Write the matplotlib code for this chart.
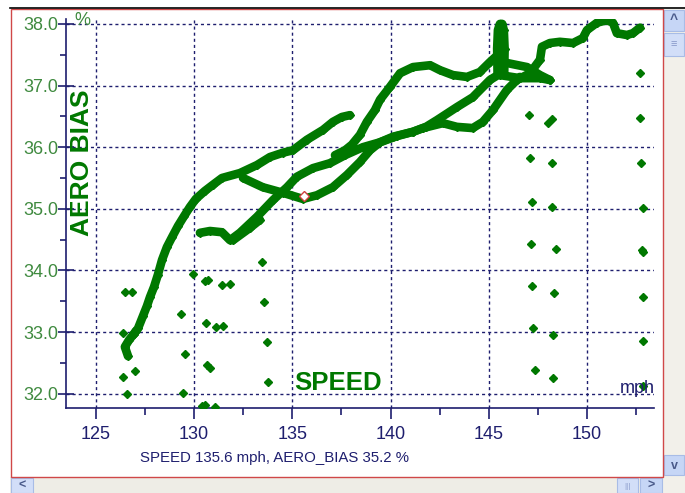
import matplotlib
matplotlib.use("Agg")
import matplotlib.pyplot as plt
from matplotlib.patches import Rectangle

# ---------------- data ----------------
track_a_speed = [126.64, 126.48, 126.69, 126.94, 127.15, 127.40, 127.60, 127.76, 127.96, 128.16,
                 128.37, 128.62, 128.88, 129.18, 129.49, 129.79, 130.09, 130.55, 130.96, 131.42,
                 132.33, 133.20, 133.86, 134.52, 135.03, 135.74, 136.56, 137.06, 137.52, 137.93]
track_a_bias = [32.61, 32.76, 32.87, 32.97, 33.06, 33.26, 33.42, 33.57, 33.73, 33.93,
                34.17, 34.38, 34.54, 34.72, 34.88, 35.03, 35.16, 35.29, 35.39, 35.50,
                35.58, 35.71, 35.84, 35.91, 35.95, 36.12, 36.28, 36.41, 36.49, 36.52]

spur_a_speed = [126.94, 127.05]
spur_a_bias = [32.97, 33.02]

track_b_speed = [132.49, 133.50, 134.52, 135.54, 136.25, 137.06, 137.78, 138.44, 138.95, 139.46,
                 140.12, 141.14, 141.80, 142.36, 143.37, 144.18, 145.05, 145.71]
track_b_bias = [35.50, 35.35, 35.26, 35.16, 35.22, 35.35, 35.55, 35.76, 35.95, 36.08,
                36.17, 36.25, 36.33, 36.44, 36.65, 36.81, 37.09, 37.22]

track_c_speed = [130.30, 130.81, 131.42, 131.83, 132.33, 133.20, 134.01, 134.73, 135.23, 136.05,
                 136.91, 137.68, 138.59, 139.46, 140.33, 141.14, 141.65, 142.66, 143.37, 144.18,
                 144.69, 145.20, 145.92, 146.58]
track_c_bias = [34.61, 34.64, 34.62, 34.49, 34.61, 34.87, 35.14, 35.35, 35.52, 35.66,
                35.74, 35.87, 36.00, 36.08, 36.18, 36.25, 36.31, 36.39, 36.33, 36.31,
                36.41, 36.60, 36.93, 37.14]

spur_c_speed = [131.98, 132.84, 133.35]
spur_c_bias = [34.49, 34.69, 34.82]

track_d_speed = [137.17, 137.68, 138.03, 138.44, 138.79, 139.20, 139.46, 139.97, 140.48, 141.14,
                 142.01, 142.51, 143.17, 143.88, 144.54, 145.05, 145.46]
track_d_bias = [35.87, 35.95, 36.04, 36.20, 36.41, 36.60, 36.77, 36.98, 37.20, 37.30,
                37.33, 37.25, 37.17, 37.14, 37.22, 37.38, 37.50]

blob_1_speed = [145.44, 145.42, 145.46, 145.56]
blob_1_bias = [37.20, 37.60, 37.90, 38.00]
blob_2_speed = [145.78, 145.80, 145.76, 145.68]
blob_2_bias = [37.20, 37.60, 37.90, 38.00]
blob_3_speed = [145.61, 145.62, 145.62]
blob_3_bias = [37.20, 37.60, 38.00]

branch_up_speed = [145.71, 146.94, 147.60, 148.10]
branch_up_bias = [37.38, 37.30, 37.17, 37.09]
branch_lo_speed = [145.56, 146.58, 147.60, 148.10]
branch_lo_bias = [37.17, 37.12, 37.12, 37.09]

track_e_speed = [146.43, 147.09, 147.60, 147.70, 148.10, 148.61, 149.28, 149.78, 149.99, 150.50,
                 151.00, 151.31, 151.51, 152.02, 152.33, 152.69]
track_e_bias = [37.09, 37.20, 37.42, 37.63, 37.69, 37.71, 37.69, 37.77, 37.90, 38.02,
                38.06, 38.02, 37.85, 37.82, 37.85, 37.94]

dots_speed = [126.48, 126.84, 126.38, 126.38, 126.99, 126.58, 129.33, 129.54, 129.44, 129.94,
              130.55, 130.71, 130.60, 131.11, 131.47, 130.66, 130.81, 130.40, 130.55, 131.06,
              131.42, 131.83, 133.45, 133.56, 133.71, 133.76,
              147.04, 148.00, 148.21, 152.69, 152.69, 147.09, 148.21, 152.74, 147.19, 148.21,
              152.84, 147.14, 148.41, 152.84, 152.79, 147.19, 148.31, 152.84, 147.25, 148.26,
              152.84, 147.35, 148.26, 152.84]
dots_bias = [33.65, 33.65, 32.98, 32.27, 32.37, 31.99, 33.29, 32.64, 32.01, 33.94,
             33.83, 33.84, 33.15, 33.08, 33.10, 32.46, 32.42, 31.80, 31.81, 31.78,
             33.76, 33.78, 34.14, 33.49, 32.84, 32.19,
             36.52, 36.39, 36.46, 37.20, 36.47, 35.82, 35.74, 35.74, 35.11, 35.03,
             35.01, 34.43, 34.35, 34.30, 34.33, 33.75, 33.63, 33.57, 33.06, 32.95,
             32.85, 32.38, 32.25, 32.12]

cursor_speed = 135.6
cursor_bias = 35.2

x_ticks = [125, 130, 135, 140, 145, 150]
x_minor = [127.5, 132.5, 137.5, 142.5, 147.5, 152.5]
y_ticks = [32.0, 33.0, 34.0, 35.0, 36.0, 37.0, 38.0]
y_minor = [32.5, 33.5, 34.5, 35.5, 36.5, 37.5]

# ---------------- style ----------------
GREEN = "#007800"
LGREEN = "#3f8a3f"
NAVY = "#1e1e6e"
W, H = 685, 493

plt.rcParams["font.family"] = ["Liberation Sans", "DejaVu Sans"]
fig = plt.figure(figsize=(W / 100, H / 100), dpi=100)
fig.patch.set_facecolor("white")


def fx(x):
    return x / W


def fy(y):
    return 1 - y / H


def rect(x0, y0, x1, y1, **kw):
    r = Rectangle((fx(x0), fy(y1)), (x1 - x0) / W, (y1 - y0) / H,
                  transform=fig.transFigure, **kw)
    fig.add_artist(r)
    return r


# window chrome
rect(10, 477, 663, 493, facecolor="#eeede6", edgecolor="none")
rect(663, 9, 685, 493, facecolor="#f2f0ea", edgecolor="none")
rect(664, 10, 684, 31, facecolor="#c6d6f6", edgecolor="#a8bce6", lw=0.8)
rect(664, 33, 684, 56, facecolor="#d2def8", edgecolor="#a8bce6", lw=0.8)
rect(664, 455, 684, 475, facecolor="#c6d6f6", edgecolor="#a8bce6", lw=0.8)
rect(11, 478, 33, 493, facecolor="#d2def8", edgecolor="#a8bce6", lw=0.8)
rect(617, 478, 638, 493, facecolor="#d2def8", edgecolor="#a8bce6", lw=0.8)
rect(640, 478, 662, 493, facecolor="#c6d6f6", edgecolor="#a8bce6", lw=0.8)
fig.text(fx(674), fy(20), "^", ha="center", va="center", fontsize=10, color="#4a5a8a",
         fontweight="bold")
fig.text(fx(674), fy(44), "≡", ha="center", va="center", fontsize=8, color="#8a9aca")
fig.text(fx(674), fy(466), "v", ha="center", va="center", fontsize=9, color="#4a5a8a",
         fontweight="bold")
fig.text(fx(22), fy(486), "<", ha="center", va="center", fontsize=9, color="#4a5a8a",
         fontweight="bold")
fig.text(fx(627), fy(486), "|||", ha="center", va="center", fontsize=6, color="#8a9aca")
fig.text(fx(651), fy(486), ">", ha="center", va="center", fontsize=9, color="#4a5a8a",
         fontweight="bold")
rect(10.5, 9, 662.5, 476.5, facecolor="none", edgecolor="#d04848", lw=1.0)
fig.add_artist(plt.Line2D([fx(10), fx(685)], [fy(8), fy(8)], transform=fig.transFigure,
                          color="black", lw=1.2))

# axes
ax = fig.add_axes([fx(65.7), fy(408.3), (654 - 65.7) / W, (408.3 - 19) / H])
ax.set_facecolor("none")
ax.set_xlim(123.47, 153.40)
ax.set_ylim(31.763, 38.08)

for s in ["top", "right"]:
    ax.spines[s].set_visible(False)
for s in ["left", "bottom"]:
    ax.spines[s].set_color(NAVY)
    ax.spines[s].set_linewidth(1.2)

ax.set_xticks(x_ticks)
ax.set_xticks(x_minor, minor=True)
ax.set_yticks(y_ticks)
ax.set_yticks(y_minor, minor=True)
ax.set_xticklabels([str(v) for v in x_ticks])
ax.set_yticklabels([f"{v:.1f}" for v in y_ticks])
ax.tick_params(axis="x", which="major", direction="out", length=8, width=1.2, color=NAVY,
               labelcolor=NAVY, labelsize=13, pad=5)
ax.tick_params(axis="x", which="minor", direction="out", length=5, width=1.2, color=NAVY)
ax.tick_params(axis="y", which="major", direction="inout", length=11, width=1.2, color=NAVY,
               labelcolor=LGREEN, labelsize=13, pad=0)
ax.tick_params(axis="y", which="minor", direction="out", length=4, width=1.2, color=NAVY)

ax.grid(True, which="major", color=NAVY, linestyle=(0, (2.2, 2.2)), linewidth=1.0)
ax.set_axisbelow(True)

track_kw = dict(color=GREEN, lw=6.2, solid_joinstyle="round", solid_capstyle="round",
                marker="D", ms=4.2, zorder=3)
for xs, ys in [(track_a_speed, track_a_bias), (spur_a_speed, spur_a_bias),
               (track_b_speed, track_b_bias), (track_c_speed, track_c_bias),
               (spur_c_speed, spur_c_bias), (track_d_speed, track_d_bias),
               (blob_1_speed, blob_1_bias), (blob_2_speed, blob_2_bias),
               (blob_3_speed, blob_3_bias), (branch_up_speed, branch_up_bias),
               (branch_lo_speed, branch_lo_bias), (track_e_speed, track_e_bias)]:
    ax.plot(xs, ys, **track_kw)

ax.plot(dots_speed, dots_bias, linestyle="none", marker="D", ms=4.2, color=GREEN, zorder=3)
ax.plot([cursor_speed], [cursor_bias], linestyle="none", marker="D", ms=5.5,
        markerfacecolor="white", markeredgecolor="#d04040", markeredgewidth=1.0, zorder=4)

# texts
ax.text(0.028, 0.632, "AERO BIAS", transform=ax.transAxes, rotation=90, ha="center",
        va="center", fontsize=19, fontweight="bold", color=GREEN)
ax.text(135.1, 32.06, "SPEED", ha="left", va="baseline", fontsize=18.5, fontweight="bold",
        color=GREEN)
fig.text(fx(74), fy(25), "%", ha="left", va="baseline", fontsize=13, color=LGREEN)
fig.text(fx(655), fy(393), "mph", ha="right", va="baseline", fontsize=13, color=NAVY)
fig.text(fx(275), fy(462), "SPEED 135.6 mph, AERO_BIAS 35.2 %", ha="center", va="baseline",
         fontsize=10.8, color=NAVY)

fig.savefig("out.png", dpi=100)
